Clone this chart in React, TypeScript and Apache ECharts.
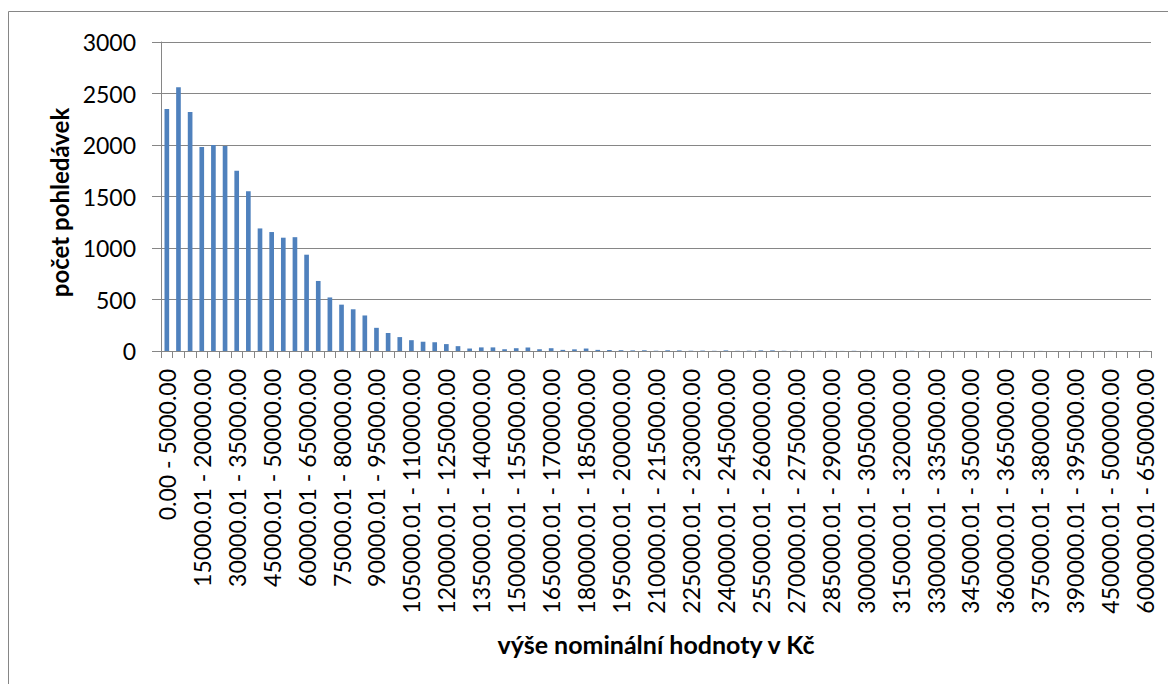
import React, { useEffect, useRef } from "react";
import * as echarts from "echarts";

const categories: string[] = [
  "0.00 - 5000.00", "5000.01 - 10000.00", "10000.01 - 15000.00", "15000.01 - 20000.00", "20000.01 - 25000.00",
  "25000.01 - 30000.00", "30000.01 - 35000.00", "35000.01 - 40000.00", "40000.01 - 45000.00", "45000.01 - 50000.00",
  "50000.01 - 55000.00", "55000.01 - 60000.00", "60000.01 - 65000.00", "65000.01 - 70000.00", "70000.01 - 75000.00",
  "75000.01 - 80000.00", "80000.01 - 85000.00", "85000.01 - 90000.00", "90000.01 - 95000.00", "95000.01 - 100000.00",
  "100000.01 - 105000.00", "105000.01 - 110000.00", "110000.01 - 115000.00", "115000.01 - 120000.00", "120000.01 - 125000.00",
  "125000.01 - 130000.00", "130000.01 - 135000.00", "135000.01 - 140000.00", "140000.01 - 145000.00", "145000.01 - 150000.00",
  "150000.01 - 155000.00", "155000.01 - 160000.00", "160000.01 - 165000.00", "165000.01 - 170000.00", "170000.01 - 175000.00",
  "175000.01 - 180000.00", "180000.01 - 185000.00", "185000.01 - 190000.00", "190000.01 - 195000.00", "195000.01 - 200000.00",
  "200000.01 - 205000.00", "205000.01 - 210000.00", "210000.01 - 215000.00", "215000.01 - 220000.00", "220000.01 - 225000.00",
  "225000.01 - 230000.00", "230000.01 - 235000.00", "235000.01 - 240000.00", "240000.01 - 245000.00", "245000.01 - 250000.00",
  "250000.01 - 255000.00", "255000.01 - 260000.00", "260000.01 - 265000.00", "265000.01 - 270000.00", "270000.01 - 275000.00",
  "275000.01 - 280000.00", "280000.01 - 285000.00", "285000.01 - 290000.00", "290000.01 - 295000.00", "295000.01 - 300000.00",
  "300000.01 - 305000.00", "305000.01 - 310000.00", "310000.01 - 315000.00", "315000.01 - 320000.00", "320000.01 - 325000.00",
  "325000.01 - 330000.00", "330000.01 - 335000.00", "335000.01 - 340000.00", "340000.01 - 345000.00", "345000.01 - 350000.00",
  "350000.01 - 355000.00", "355000.01 - 360000.00", "360000.01 - 365000.00", "365000.01 - 370000.00", "370000.01 - 375000.00",
  "375000.01 - 380000.00", "380000.01 - 385000.00", "385000.01 - 390000.00", "390000.01 - 395000.00", "395000.01 - 400000.00",
  "400000.01 - 450000.00", "450000.01 - 500000.00", "500000.01 - 550000.00", "550000.01 - 600000.00", "600000.01 - 650000.00",
];

const counts: number[] = [
  2350, 2560, 2320, 1980, 2000, 1990, 1750, 1550, 1190, 1155,
  1100, 1105, 935, 680, 520, 450, 405, 345, 225, 175,
  135, 105, 90, 85, 67, 47, 24, 35, 35, 17,
  27, 34, 17, 27, 11, 16, 24, 11, 10, 8,
  6, 7, 3, 7, 6, 3, 4, 2, 6, 2,
  3, 6, 6, 2, 2, 1, 2, 1, 1, 2,
  1, 1, 0, 1, 2, 1, 0, 1, 1, 0,
  1, 0, 1, 0, 0, 1, 0, 0, 1, 0,
  1, 1, 0, 0, 1,
];

const yAxisTitle = "počet pohledávek";
const xAxisTitle = "výše nominální hodnoty v Kč";

const FONT = "Lato";
const GRAY = "#868686";

export default function App() {
  const ref = useRef<HTMLDivElement>(null);
  useEffect(() => {
    if (!ref.current) return;
    const chart = echarts.init(ref.current, null, { renderer: "svg" });
    chart.setOption({
      animation: false,
      backgroundColor: "#ffffff",
      textStyle: { fontFamily: FONT },
      graphic: [
        {
          type: "rect",
          shape: { x: 8.5, y: 11.5, width: 1300, height: 800 },
          style: { fill: "none", stroke: GRAY, lineWidth: 1 },
          silent: true,
          z: -1,
        },
      ],
      grid: { left: 161, top: 42, right: 17, bottom: 333, containLabel: false },
      xAxis: {
        type: "category",
        data: categories,
        boundaryGap: true,
        name: xAxisTitle,
        nameLocation: "middle",
        nameGap: 280,
        nameTextStyle: { fontFamily: FONT, fontSize: 25, fontWeight: "bold", color: "#000" },
        axisLine: { show: true, lineStyle: { color: GRAY, width: 1 } },
        axisTick: { show: true, interval: 0, length: 7, lineStyle: { color: GRAY } },
        axisLabel: {
          interval: 2,
          rotate: 90,
          margin: 18,
          fontFamily: FONT,
          fontSize: 23,
          color: "#000",
        },
      },
      yAxis: {
        type: "value",
        min: 0,
        max: 3000,
        interval: 500,
        name: yAxisTitle,
        nameLocation: "middle",
        nameGap: 79,
        nameRotate: 90,
        nameTextStyle: {
          fontFamily: FONT,
          fontSize: 24,
          fontWeight: "bold",
          color: "#000",
          padding: [0, 12, 0, 0],
        },
        axisLine: { show: true, lineStyle: { color: GRAY, width: 1 } },
        axisTick: { show: true, length: 9, lineStyle: { color: GRAY } },
        axisLabel: {
          margin: 25,
          fontFamily: FONT,
          fontSize: 23,
          color: "#000",
          formatter: (v: number) => String(v),
        },
        splitLine: { show: true, lineStyle: { color: GRAY, width: 1 } },
      },
      series: [
        {
          type: "bar",
          data: counts,
          barCategoryGap: "60%",
          itemStyle: { color: "#4F81BD" },
        },
      ],
    });
    return () => chart.dispose();
  }, []);
  return (
    <div
      ref={ref}
      style={{ position: "absolute", left: 0, top: 0, width: 1168, height: 684, background: "#fff" }}
    />
  );
}
